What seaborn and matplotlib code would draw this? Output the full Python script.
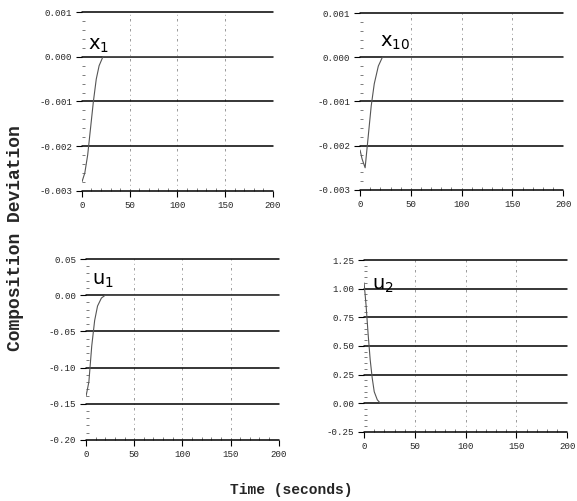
import matplotlib
matplotlib.use("Agg")
import matplotlib.pyplot as plt
import seaborn as sns
import pandas as pd
from matplotlib.ticker import AutoMinorLocator

sns.set_style("white")
plt.rcParams['font.family'] = ['Liberation Mono', 'DejaVu Sans']
plt.rcParams['mathtext.default'] = 'regular'

# Data
t_x1 = [0, 3, 6, 9, 12, 15, 18, 22, 30, 60, 100, 150, 200]
v_x1 = [-0.0028, -0.0026, -0.0022, -0.0016, -0.0010, -0.0005, -0.0002, 0.0, 0.0, 0.0, 0.0, 0.0, 0.0]

t_x10 = [0, 2, 5, 8, 11, 14, 18, 22, 30, 60, 100, 150, 200]
v_x10 = [-0.0021, -0.0023, -0.0025, -0.0018, -0.0011, -0.0006, -0.0002, 0.0, 0.0, 0.0, 0.0, 0.0, 0.0]

t_u1 = [0, 3, 6, 9, 12, 16, 20, 30, 60, 100, 150, 200]
v_u1 = [-0.14, -0.12, -0.07, -0.035, -0.015, -0.004, 0.0, 0.0, 0.0, 0.0, 0.0, 0.0]

t_u2 = [0, 2, 4, 6, 8, 10, 13, 16, 30, 60, 100, 150, 200]
v_u2 = [1.05, 0.85, 0.60, 0.38, 0.22, 0.10, 0.03, 0.0, 0.0, 0.0, 0.0, 0.0, 0.0]

x_ticks = [0, 50, 100, 150, 200]
x_ticklabels = ["0", "50", "100", "150", "200"]
yt_x = [-0.003, -0.002, -0.001, 0.000, 0.001]
yl_x = ["-0.003", "-0.002", "-0.001", "0.000", "0.001"]
yt_u1 = [-0.20, -0.15, -0.10, -0.05, 0.00, 0.05]
yl_u1 = ["-0.20", "-0.15", "-0.10", "-0.05", "0.00", "0.05"]
yt_u2 = [-0.25, 0.00, 0.25, 0.50, 0.75, 1.00, 1.25]
yl_u2 = ["-0.25", "0.00", "0.25", "0.50", "0.75", "1.00", "1.25"]

panels = [
    dict(t=t_x1, v=v_x1, yt=yt_x, yl=yl_x, name="x", sub="1",
         pos=[0.142, 0.619, 0.331, 0.357], lab=(0.03, 0.79)),
    dict(t=t_x10, v=v_x10, yt=yt_x, yl=yl_x, name="x", sub="10",
         pos=[0.624, 0.621, 0.352, 0.353], lab=(0.10, 0.81)),
    dict(t=t_u1, v=v_u1, yt=yt_u1, yl=yl_u1, name="u", sub="1",
         pos=[0.149, 0.122, 0.334, 0.361], lab=(0.03, 0.856)),
    dict(t=t_u2, v=v_u2, yt=yt_u2, yl=yl_u2, name="u", sub="2",
         pos=[0.631, 0.138, 0.352, 0.343], lab=(0.04, 0.83)),
]

fig = plt.figure(figsize=(5.77, 5.01), dpi=100)

for p in panels:
    ax = fig.add_axes(p["pos"])
    df = pd.DataFrame({"t": p["t"], "v": p["v"]})
    sns.lineplot(data=df, x="t", y="v", ax=ax, color="#555555", linewidth=0.8)
    ax.set_xlim(0, 200)
    ax.set_ylim(p["yt"][0], p["yt"][-1])
    for yv in p["yt"]:
        ax.axhline(yv, color="black", linewidth=1.1, clip_on=False, zorder=1)
    for xv in x_ticks[1:]:
        ax.axvline(xv, color="#888888", linewidth=0.6, linestyle=(0, (3, 4, 1, 4)), zorder=0)
    for s in ax.spines.values():
        s.set_visible(False)
    ax.set_xticks(x_ticks)
    ax.set_xticklabels(x_ticklabels)
    ax.set_yticks(p["yt"])
    ax.set_yticklabels(p["yl"])
    ax.xaxis.set_minor_locator(AutoMinorLocator(5))
    ax.yaxis.set_minor_locator(AutoMinorLocator(5))
    ax.tick_params(axis="both", which="major", labelsize=6.6, length=4, width=0.8,
                   color="black", direction="out", pad=3, bottom=True, left=True)
    ax.tick_params(axis="both", which="minor", length=2, width=0.6,
                   color="#666666", direction="in", bottom=True, left=True)
    ax.set_xlabel("")
    ax.set_ylabel("")
    ax.text(p["lab"][0], p["lab"][1], p["name"] + "$_{" + p["sub"] + "}$",
            transform=ax.transAxes, fontsize=14, family="DejaVu Sans",
            color="black", ha="left", va="baseline")

fig.text(0.027, 0.525, "Composition Deviation", rotation=90, ha="center", va="center",
         fontsize=13, fontweight="bold", family="Liberation Mono")
fig.text(0.505, 0.022, "Time (seconds)", ha="center", va="center",
         fontsize=10.5, fontweight="bold", family="Liberation Mono")

fig.savefig("out.png", dpi=100, facecolor="white")
